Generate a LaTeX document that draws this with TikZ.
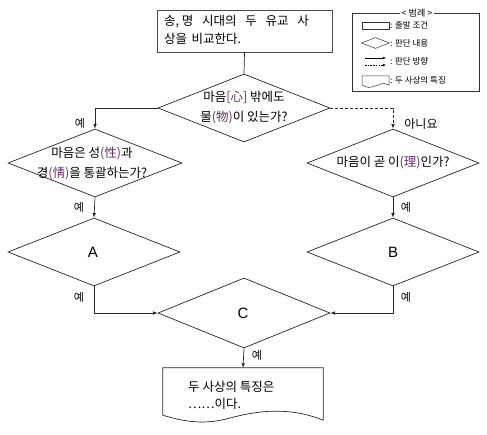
\documentclass[tikz,border=0pt]{standalone}
\usepackage{fontspec}
\setmainfont{Noto Sans CJK KR}
\newfontfamily\lbl{Liberation Sans}
\usetikzlibrary{shapes.geometric,arrows.meta}
\definecolor{hanja}{HTML}{6A2C70}
\tikzset{
  x=1pt,y=-1pt,
  ln/.style={draw=black!85,line width=0.7pt},
  arr/.style={ln,-{Latex[length=4.5pt,width=3.5pt]}},
  dia/.style={shape=diamond,ln,inner sep=0pt,minimum width=172pt,minimum height=68pt},
  txt/.style={font=\fontsize{12.5}{20}\selectfont,align=left,inner sep=0pt},
  yes/.style={font=\fontsize{11}{11}\selectfont,inner sep=0pt},
  big/.style={font=\lbl\fontsize{15}{15}\selectfont,inner sep=0pt},
  leg/.style={font=\fontsize{8.5}{8.5}\selectfont,inner sep=0pt,anchor=west},
}
\begin{document}
\begin{tikzpicture}
\useasboundingbox (0,0) rectangle (487,435);
% legend
\node[draw=black!80,line width=0.6pt,minimum width=127pt,minimum height=78pt,inner sep=0pt] (legbox) at (415.5,52) {};
\node[fill=white,font=\fontsize{9}{9}\selectfont,inner sep=1.5pt] (legtitle) at (417,13) {< 범례 >};
\node[draw=black!80,line width=0.5pt,minimum width=27pt,minimum height=7pt,inner sep=0pt] (lrect) at (375.5,25.5) {};
\node[leg] (lt1) at (390,25.5) {: 출발 조건};
\node[shape=diamond,draw=black!80,line width=0.5pt,minimum width=28pt,minimum height=11pt,inner sep=0pt] (ldia) at (375.5,43) {};
\node[leg] (lt2) at (390,43) {: 판단 내용};
\coordinate (la1) at (365,58); \coordinate (la2) at (386,58);
\coordinate (lb1) at (365,65); \coordinate (lb2) at (386,65);
\draw[line width=0.5pt,-{Latex[length=3pt,width=2.5pt]}] (la1) -- (la2);
\draw[line width=0.5pt,dashed,dash pattern=on 1.5pt off 1.2pt,-{Latex[length=3pt,width=2.5pt]}] (lb1) -- (lb2);
\node[leg] (lt3) at (390,61) {: 판단 방향};
\coordinate (ld) at (362,76);
\draw[black!80,line width=0.5pt] (ld) -- ++(27,0) -- ++(0,9) .. controls ++(-8,-3) and ++(8,-2) .. ++(-14,1) .. controls ++(-6,2) and ++(6,3) .. ++(-13,-1) -- cycle;
\node[leg] (lt4) at (390,80) {: 두 사상의 특징};
% start box
\node[draw=black!70,line width=0.7pt,minimum width=175pt,minimum height=42pt,inner sep=0pt] (start) at (244.5,31) {};
\node[txt,anchor=west] (st1) at (164,22) {송, 명\hspace{0.7em}시대의\hspace{0.7em}두\hspace{0.7em}유교\hspace{0.7em}사};
\node[txt,anchor=west] (st2) at (164,39) {상을\hspace{0.35em}비교한다.};
% diamonds
\node[dia] (d1) at (244,108) {};
\node[txt,align=center] (d1t) at (244,108) {마음{\color{hanja}[心]} 밖에도\\물{\color{hanja}(物)}이 있는가?};
\node[dia,minimum width=174pt] (d2) at (95,163) {};
\node[txt,align=center] (d2t) at (92,163) {마음은 성{\color{hanja}(性)}과\\경{\color{hanja}(情)}을 통괄하는가?};
\node[dia] (d3) at (393,163) {};
\node[txt] (d3t) at (393,163) {마음이 곧 이{\color{hanja}(理)}인가?};
\node[dia] (dA) at (94,252) {};
\node[big] (At) at (93,252) {A};
\node[dia] (dB) at (393,252) {};
\node[big] (Bt) at (393,252) {B};
\node[dia,minimum height=70pt] (dC) at (244,313) {};
\node[big] (Ct) at (243,313) {C};
% document
\node[minimum width=160pt,minimum height=47pt,inner sep=0pt] (doc) at (243,391.5) {};
\draw[ln] (doc.south west) -- (doc.north west) -- (doc.north east) -- ([yshift=-5pt]doc.south east)
  .. controls (290,407) and (260,410) .. (230,418)
  .. controls (205,425) and (185,422) .. (doc.south west);
\node[txt,anchor=west] (dt1) at (188,387) {두 사상의 특징은};
\node[txt,anchor=west] (dt2) at (188,404) {……이다.};
% connectors
\coordinate (c1) at (95,108);
\coordinate (c2) at (393,108);
\coordinate (c3) at (94,313);
\coordinate (c4) at (393,313);
\draw[ln] (start.south) -- (d1.north);
\draw[arr] (d1.west) -- (c1) -- (d2.north);
\draw[arr,dashed,dash pattern=on 3pt off 2pt] (d1.east) -- (c2) -- (d3.north);
\draw[arr] (d2.south) -- (dA.north);
\draw[arr] (d3.south) -- (dB.north);
\draw[arr] (dA.south) -- (c3) -- (dC.west);
\draw[arr] (dB.south) -- (c4) -- (dC.east);
\draw[arr] (dC.south) -- (doc.north);
% labels
\node[yes] (y1) at (80,123) {예};
\node[yes,font=\fontsize{12}{12}\selectfont] (n1) at (421,124) {아니요};
\node[yes] (y2) at (79,207) {예};
\node[yes] (y3) at (406,207) {예};
\node[yes] (y4) at (79,297) {예};
\node[yes] (y5) at (406,297) {예};
\node[yes] (y6) at (257,355) {예};
\end{tikzpicture}
\end{document}
